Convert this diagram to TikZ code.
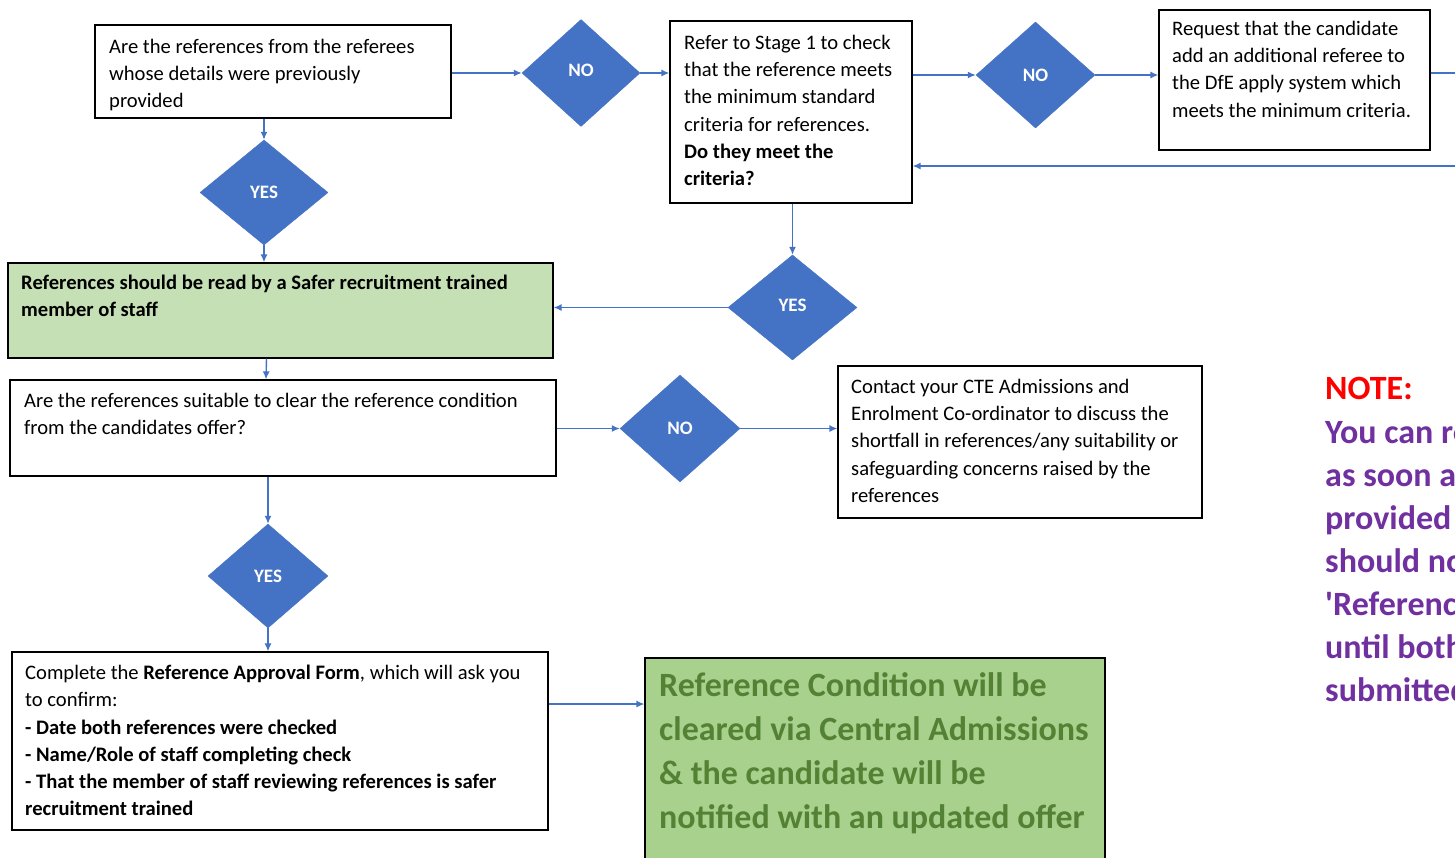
\documentclass[tikz,border=0pt]{standalone}
\usepackage{fontspec}
\setmainfont{Carlito}
\usetikzlibrary{shapes.geometric,arrows.meta}
\definecolor{dblue}{HTML}{4472C4}
\definecolor{lgreen}{HTML}{C5E0B4}
\definecolor{mgreen}{HTML}{A9D18E}
\definecolor{tgreen}{HTML}{548235}
\definecolor{npurple}{HTML}{7030A0}
\tikzset{
  box/.style={draw=black, line width=1.2pt, rectangle, inner sep=0pt},
  dec/.style={diamond, fill=dblue, draw=dblue, inner sep=0pt, text=white, font=\fontsize{19}{20}\selectfont\bfseries},
  arr/.style={draw=dblue, line width=1.4pt, -{Latex[length=8pt,width=7pt]}},
  plainline/.style={draw=dblue, line width=1.4pt},
  txt/.style={anchor=north west, inner sep=0pt, align=left, font=\fontsize{20.6}{27.2}\selectfont},
}
\begin{document}
\begin{tikzpicture}[x=1pt,y=-1pt]
\useasboundingbox (0,0) rectangle (1455,857);
\clip (0,0) rectangle (1455,857);
\fill[white] (0,0) rectangle (1455,857);

% boxes
\node[box, minimum width=356, minimum height=93] (b1) at (273,71.5) {};
\node[txt] (t1) at (109,39) {Are the references from the referees\\whose details were previously\\provided};

\node[dec, minimum width=118, minimum height=107] (no1) at (581,73) {\raisebox{5pt}{NO}};

\node[box, minimum width=242, minimum height=182] (refer) at (791,112) {};
\node[txt] (t2) at (684,35) {Refer to Stage 1 to check\\that the reference meets\\the minimum standard\\criteria for references.\\\textbf{Do they meet the}\\\textbf{criteria?}};

\node[dec, minimum width=119, minimum height=106] (no2) at (1035.5,75) {NO};

\node[box, minimum width=271, minimum height=140] (req) at (1294.5,80) {};
\node[txt] (t3) at (1172,21) {Request that the candidate\\add an additional referee to\\the DfE apply system which\\meets the minimum criteria.};

\node[dec, minimum width=128, minimum height=105] (yes1) at (264,192.5) {YES};

\node[box, fill=lgreen, minimum width=545, minimum height=95] (g1) at (280.5,310.5) {};
\node[txt, font=\fontsize{20.6}{27.2}\selectfont\bfseries] (t4) at (21,275) {References should be read by a Safer recruitment trained\\member of staff};

\node[dec, minimum width=129, minimum height=105] (yes2) at (792.5,307.5) {\raisebox{4pt}{YES}};

\node[box, minimum width=546, minimum height=96] (b3) at (283,428) {};
\node[txt] (t5) at (24,393) {Are the references suitable to clear the reference condition\\from the candidates offer?};

\node[dec, minimum width=120, minimum height=107] (no3) at (680,428.5) {NO};

\node[box, minimum width=364, minimum height=152] (contact) at (1020,442) {};
\node[txt] (t6) at (851,379) {Contact your CTE Admissions and\\Enrolment Co-ordinator to discuss the\\shortfall in references/any suitability or\\safeguarding concerns raised by the\\references};

\node[dec, minimum width=120, minimum height=104] (yes3) at (268,576) {YES};

\node[box, minimum width=536, minimum height=178] (b5) at (280,741) {};
\node[txt] (t7) at (25,665) {Complete the \textbf{Reference Approval Form}, which will ask you\\to confirm:\\\textbf{- Date both references were checked}\\\textbf{- Name/Role of staff completing check}\\\textbf{- That the member of staff reviewing references is safer}\\\textbf{recruitment trained}};

\node[box, fill=mgreen, minimum width=460, minimum height=210] (g2) at (875,763) {};
\node[txt, text=tgreen, font=\fontsize{34}{44}\selectfont\bfseries] (t8) at (659,672) {Reference Condition will be\\cleared via Central Admissions\\\& the candidate will be\\notified with an updated offer};

\node[txt, text=red, font=\fontsize{34}{43}\selectfont\bfseries] (note) at (1325,377) {NOTE:};
\node[txt, text=npurple, font=\fontsize{34}{43}\selectfont\bfseries] (notebody) at (1325,421) {You can request\\as soon as\\provided\\should not\\\textquotesingle References\textquotesingle\\until both\\submitted};

% connectors
\draw[arr] (b1.east |- no1.west) -- (no1.west);
\draw[arr] (no1.east) -- (no1.east -| refer.west);
\draw[arr] (refer.east |- no2.west) -- (no2.west);
\draw[arr] (no2.east) -- (no2.east -| req.west);
\coordinate (outR) at (1455,73);
\draw[plainline] (outR -| req.east) -- (outR);
\coordinate (retR) at (1455,166);
\draw[arr] (retR) -- (retR -| refer.east);

\draw[arr] (yes1.north |- b1.south) -- (yes1.north);
\draw[arr] (yes1.south) -- (yes1.south |- g1.north);
\draw[arr] (yes2.north |- refer.south) -- (yes2.north);
\draw[arr] (yes2.west) -- (yes2.west -| g1.east);
\draw[arr] ([xshift=-14pt]g1.south) -- ([xshift=-17pt]b3.north);
\draw[arr] (b3.east |- no3.west) -- (no3.west);
\draw[arr] (no3.east) -- (no3.east -| contact.west);
\draw[arr] (yes3.north |- b3.south) -- (yes3.north);
\draw[arr] (yes3.south) -- (yes3.south |- b5.north);
\coordinate (c5) at (548,704);
\draw[arr] (c5 -| b5.east) -- (c5 -| g2.west);
\end{tikzpicture}
\end{document}
